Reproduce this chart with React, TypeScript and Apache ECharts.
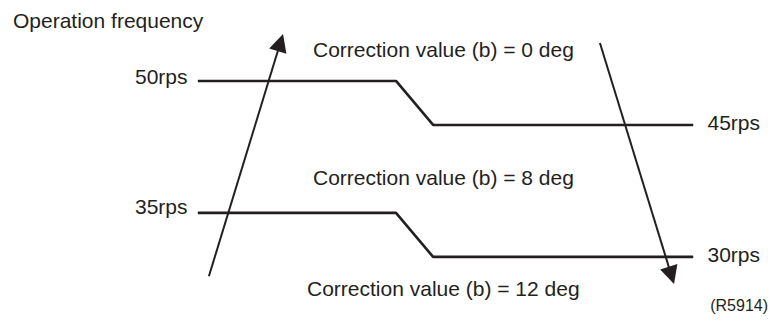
import React, { useEffect, useRef } from "react";
import * as echarts from "echarts";

// time axis (arbitrary units), frequency axis in rps
const timePoints = [0, 40, 47.5, 100];
const upperSeries = [50, 50, 45, 45]; // correction value (b) = 0 deg
const lowerSeries = [35, 35, 30, 30]; // correction value (b) = 8 deg
const upArrow = [[2.2, 27.8], [16.65, 54.36]];
const downArrow = [[81.2, 54.31], [95.64, 27.9]];
const correctionLabels = [
  "Correction value (b) = 0 deg",
  "Correction value (b) = 8 deg",
  "Correction value (b) = 12 deg",
];
const yTitle = "Operation frequency";
const figureId = "(R5914)";

const INK = "#231f20";
const FONT = "'Liberation Sans', Arial, Helvetica, sans-serif";

function buildData(vals: number[], leftOffset: number, rightOffset: number) {
  return timePoints.map((t, i) => {
    const item: any = { value: [t, vals[i]] };
    if (i === 0) {
      item.label = { show: true, position: "left", distance: 10, offset: [0, leftOffset] };
    } else if (i === timePoints.length - 1) {
      item.label = { show: true, position: "right", distance: 14, offset: [0, rightOffset] };
    }
    return item;
  });
}

export default function App() {
  const ref = useRef<HTMLDivElement>(null);
  useEffect(() => {
    if (!ref.current) return;
    const chart = echarts.init(ref.current, undefined, { renderer: "svg" });
    const labelStyle = {
      color: INK,
      fontFamily: FONT,
      fontSize: 21,
      formatter: (p: any) => `${p.value[1]}rps`,
    };
    chart.setOption({
      animation: false,
      grid: { left: 0, right: 0, top: 0, bottom: 0 },
      xAxis: { type: "value", min: -40, max: 115.76, show: false },
      yAxis: { type: "value", min: 22.6, max: 59.2, show: false },
      series: [
        {
          type: "line",
          data: buildData(upperSeries, -4, -2),
          symbol: "circle",
          symbolSize: 1,
          lineStyle: { color: INK, width: 2.6 },
          itemStyle: { color: INK },
          label: labelStyle,
          silent: true,
        },
        {
          type: "line",
          data: buildData(lowerSeries, -6, -2),
          symbol: "circle",
          symbolSize: 1,
          lineStyle: { color: INK, width: 2.6 },
          itemStyle: { color: INK },
          label: labelStyle,
          silent: true,
        },
        {
          type: "line",
          data: [],
          markLine: {
            silent: true,
            symbol: ["none", "triangle"],
            symbolSize: 18,
            label: { show: false },
            lineStyle: { color: INK, width: 2, type: "solid" },
            itemStyle: { color: INK },
            data: [
              [{ coord: upArrow[0] }, { coord: upArrow[1] }],
              [{ coord: downArrow[0] }, { coord: downArrow[1] }],
            ],
          },
        },
      ],
      graphic: [
        { type: "text", left: 13, top: 10, style: { text: yTitle, fill: INK, font: `21px ${FONT}` } },
        { type: "text", left: 313, top: 39, style: { text: correctionLabels[0], fill: INK, font: `21px ${FONT}` } },
        { type: "text", left: 313, top: 167, style: { text: correctionLabels[1], fill: INK, font: `21px ${FONT}` } },
        { type: "text", left: 307, top: 278, style: { text: correctionLabels[2], fill: INK, font: `21px ${FONT}` } },
        { type: "text", right: 3, top: 297, style: { text: figureId, fill: INK, font: `16px ${FONT}` } },
      ],
    });
    return () => chart.dispose();
  }, []);
  return (
    <div
      ref={ref}
      style={{ position: "absolute", left: 0, top: 0, width: 771, height: 322, background: "#fff" }}
    />
  );
}
